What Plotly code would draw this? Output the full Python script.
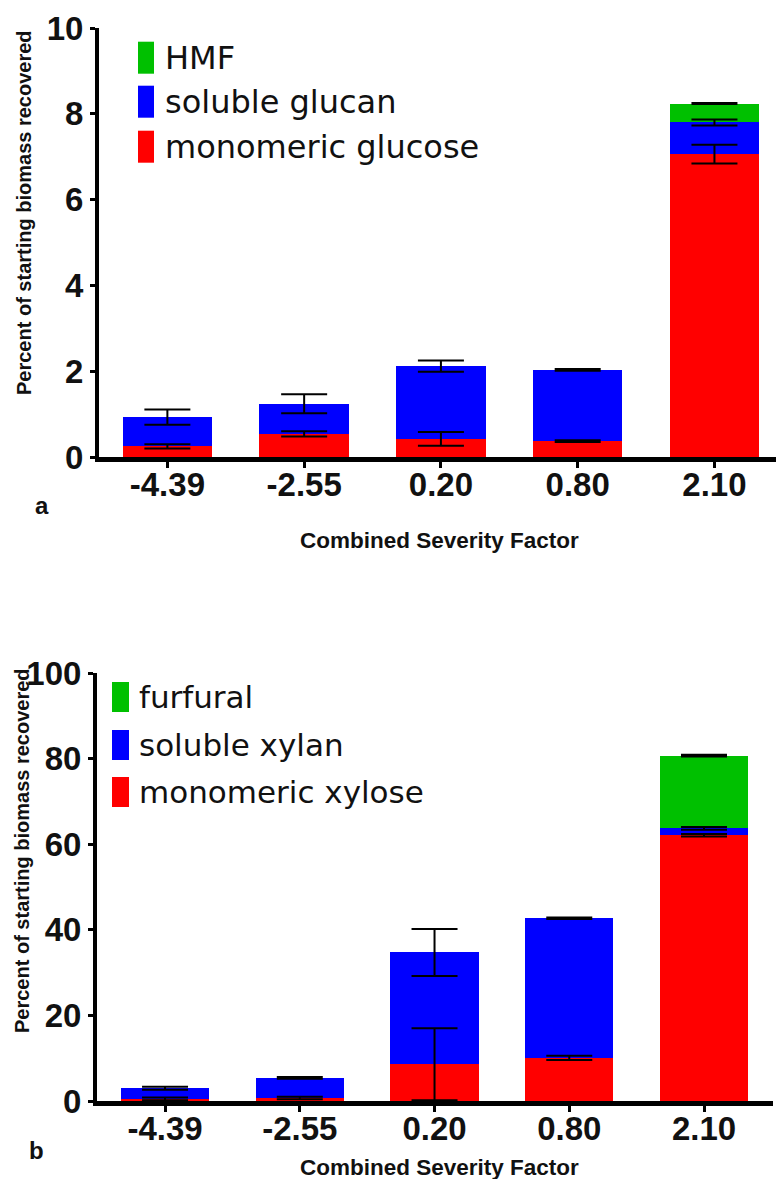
import numpy as np
import plotly.graph_objects as go

# ---------------- data ----------------
categories = ["-4.39", "-2.55", "0.20", "0.80", "2.10"]

# panel a (glucose products), stacked segment values and SD
glucose = [0.25, 0.54, 0.42, 0.37, 7.06]
glucose_err = [0.05, 0.06, 0.16, 0.02, 0.22]
glucan = [0.68, 0.70, 1.70, 1.66, 0.74]
glucan_err = [0.18, 0.22, 0.13, 0.02, 0.07]
hmf = [0, 0, 0, 0, 0.44]
hmf_err = [0, 0, 0, 0, 0.01]

# panel b (xylose products)
xylose = [0.5, 0.7, 8.6, 10.1, 62.1]
xylose_err = [0.3, 0.3, 8.4, 0.5, 0.3]
xylan = [2.5, 4.7, 26.1, 32.6, 1.6]
xylan_err = [0.35, 0.2, 5.5, 0.2, 0.3]
furfural = [0, 0, 0, 0, 17.0]
furfural_err = [0, 0, 0, 0, 0.2]

names_a = ["monomeric glucose", "soluble glucan", "HMF"]
names_b = ["monomeric xylose", "soluble xylan", "furfural"]
y_ticks_a = [0, 2, 4, 6, 8, 10]
y_ticks_b = [0, 20, 40, 60, 80, 100]
x_title = "Combined Severity Factor"
y_title = "Percent of starting biomass recovered"
panel_labels = ["a", "b"]

# ---------------- style ----------------
COLORS = ["#FF0000", "#0000FF", "#00C000"]
W, H = 777, 1179
SANS = "Liberation Sans, Arial, sans-serif"
LEG_FONT = "DejaVu Sans, Verdana, sans-serif"


def px(x):
    return x / W


def py(y):
    return 1 - y / H


fig = go.Figure()


def add_panel(series, errs, names, xa, ya):
    cum = np.zeros(len(categories))
    for vals, err, name, col in zip(series, errs, names, COLORS):
        vals = np.array(vals, dtype=float)
        fig.add_trace(go.Bar(
            x=categories, y=vals, name=name, marker=dict(color=col, line=dict(width=0)),
            width=0.655, xaxis=xa, yaxis=ya, showlegend=False))
        cum = cum + vals
        idx = [i for i in range(len(categories)) if vals[i] > 0]
        fig.add_trace(go.Scatter(
            x=[categories[i] for i in idx], y=[cum[i] for i in idx],
            mode="markers", marker=dict(size=1, color="rgba(0,0,0,0)"),
            error_y=dict(type="data", array=[err[i] for i in idx], color="black",
                         thickness=2, width=23, visible=True),
            xaxis=xa, yaxis=ya, showlegend=False, hoverinfo="skip", cliponaxis=False))


add_panel([glucose, glucan, hmf], [glucose_err, glucan_err, hmf_err], names_a, "x", "y")
add_panel([xylose, xylan, furfural], [xylose_err, xylan_err, furfural_err], names_b, "x2", "y2")

axis_common_x = dict(
    type="category", showline=True, linecolor="black", linewidth=5,
    ticks="outside", ticklen=6, tickwidth=3, tickcolor="black", ticklabelstandoff=-12,
    tickfont=dict(family=SANS, size=33, color="#111", weight="bold"),
    showgrid=False, zeroline=False, fixedrange=True, automargin=False,
)
axis_common_y = dict(
    showline=True, linecolor="black", linewidth=4,
    ticks="outside", ticklen=5, tickwidth=3, tickcolor="black",
    tickfont=dict(family=SANS, size=33, color="#111", weight="bold"),
    showgrid=False, zeroline=False, fixedrange=True, automargin=False,
)

fig.update_layout(
    width=W, height=H, margin=dict(l=0, r=0, t=0, b=0),
    paper_bgcolor="white", plot_bgcolor="white", barmode="stack", bargap=0.3,
    xaxis=dict(axis_common_x, domain=[px(99), px(776)], range=[-0.5, 4.45],
               anchor="y", categoryorder="array", categoryarray=categories),
    yaxis=dict(axis_common_y, domain=[py(457), py(28)], range=[0, 10],
               tickvals=y_ticks_a, anchor="x"),
    xaxis2=dict(axis_common_x, domain=[px(97), px(773)], range=[-0.505, 4.512],
                anchor="y2", categoryorder="array", categoryarray=categories),
    yaxis2=dict(axis_common_y, domain=[py(1101), py(673)], range=[0, 100],
                tickvals=y_ticks_b, anchor="x2"),
)

# ---------- legends (drawn as swatches + text) ----------
shapes = []
annos = []


def legend(names, x0, x1, centers, hgt, tx, size):
    for name, col, c in zip(names, COLORS, centers):
        shapes.append(dict(type="rect", xref="paper", yref="paper",
                           x0=px(x0), x1=px(x1), y0=py(c + hgt / 2), y1=py(c - hgt / 2),
                           fillcolor=col, line=dict(width=0)))
        annos.append(dict(xref="paper", yref="paper", x=px(tx), y=py(c), text=name,
                          showarrow=False, xanchor="left", yanchor="middle",
                          font=dict(family=LEG_FONT, size=size, color="#111")))


legend(names_a, 138, 154, [146.7, 101.7, 57.7], 32, 163, 32)
legend(names_b, 112, 129, [792, 745, 697], 30, 137, 31)

# axis titles and panel letters
for yc, xc_t, y_t in [(213, 541, 24), (851, 1167, 22)]:
    annos.append(dict(xref="paper", yref="paper", x=px(y_t), y=py(yc), text=y_title,
                      textangle=-90, showarrow=False, xanchor="center", yanchor="middle",
                      font=dict(family=SANS, size=20, color="#111", weight="bold")))
    annos.append(dict(xref="paper", yref="paper", x=px(439), y=py(xc_t), text=x_title,
                      showarrow=False, xanchor="center", yanchor="middle",
                      font=dict(family=SANS, size=22.5, color="#111", weight="bold")))

for lab, (lx, ly) in zip(panel_labels, [(42, 505), (36, 1150)]):
    annos.append(dict(xref="paper", yref="paper", x=px(lx), y=py(ly), text=lab,
                      showarrow=False, xanchor="center", yanchor="middle",
                      font=dict(family=SANS, size=24, color="#111", weight="bold")))

fig.update_layout(shapes=shapes, annotations=annos)

fig.write_html("out.html", config={"displayModeBar": False},
               post_script="document.body.style.margin='0px';")
